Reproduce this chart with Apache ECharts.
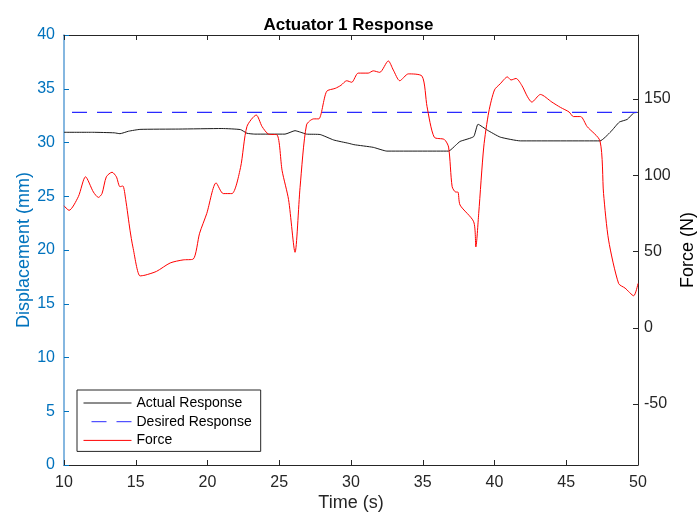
<!DOCTYPE html>
<html lang="en">
<head>
    <meta charset="UTF-8">
    <title>Actuator 1 Response</title>
    <script src="https://cdn.jsdelivr.net/npm/echarts@6.0.0/dist/echarts.min.js"></script>
    <style>
        html, body { margin: 0; padding: 0; background: #fff; }
    </style>
</head>
<body>
<div id="chart" style="width: 697px; height:514px;"></div>
<script>
    // time (s) and actual displacement (mm)
    var actualTime = [10.0, 12.0, 13.5, 13.9, 14.5, 15.3, 18.0, 21.0, 22.3, 22.75, 23.3, 25.4, 26.1, 26.5, 26.9,
        27.85, 28.8, 29.85, 30.2, 31.55, 32.5, 36.8, 37.3, 37.6, 38.55, 38.85, 39.5, 40.4, 41.8, 47.35,
        48.1, 48.7, 49.25, 49.7, 50.0];
    var actualDisp = [30.95, 30.95, 30.9, 30.82, 31.05, 31.22, 31.25, 31.3, 31.2, 30.86, 30.78, 30.78, 31.1, 30.95, 30.78,
        30.74, 30.23, 29.92, 29.8, 29.55, 29.2, 29.2, 29.75, 30.1, 30.55, 31.7, 31.15, 30.5, 30.15, 30.15,
        31.0, 31.9, 32.15, 32.75, 32.8];

    // desired displacement (mm)
    var desiredTime = [10, 50];
    var desiredDisp = [32.8, 32.8];

    // time (s) and force (N)
    var forceTime = [10.0, 10.35, 11.0, 11.5, 12.05, 12.4, 12.65, 12.95, 13.35, 13.65, 13.9, 14.1, 14.3, 14.6, 14.8,
        15.3, 15.65, 16.45, 17.4, 18.3, 19.0, 19.45, 19.95, 20.6, 21.1, 21.7, 22.3, 22.75, 23.4, 23.8,
        24.25, 24.85, 25.2, 25.65, 26.1, 26.45, 26.9, 27.4, 27.75, 28.3, 28.9, 29.3, 29.7, 30.05, 30.5,
        31.2, 31.55, 32.0, 32.6, 32.95, 33.4, 34.0, 34.95, 35.3, 35.8, 36.5, 36.8, 37.05, 37.3, 37.45,
        37.6, 38.55, 38.7, 38.9, 39.25, 39.6, 40.0, 40.4, 40.9, 41.15, 41.5, 41.9, 42.3, 42.6, 43.2,
        44.0, 44.6, 45.2, 45.5, 46.0, 46.45, 47.35, 47.6, 47.95, 48.65, 49.1, 49.7, 50.0];
    var forceVal = [80, 77, 86, 99, 89, 85.5, 88, 99, 102, 99, 92.5, 93, 84, 64, 53,
        34, 34.5, 37, 42.5, 44.5, 45, 62, 75, 95, 88, 88, 105, 132, 139.5, 132,
        127, 126.5, 103, 84, 49.5, 92, 133, 137, 137, 155, 157, 159, 162, 161, 167,
        167, 168.5, 167.5, 175, 169, 162, 166.5, 165, 145, 125, 123.5, 118.5, 92.5, 89, 89,
        80.5, 69.5, 53, 75, 118.5, 141.5, 156, 160, 164.5, 162.5, 163.5, 159, 151.5, 148, 153,
        148, 144.5, 141.5, 138.5, 138.5, 132, 122.5, 88, 57.5, 29, 26, 21, 29];

    var forceTicks = [-50, 0, 50, 100, 150];

    function zip(a, b) {
        var out = [];
        for (var i = 0; i < a.length; i++) out.push([a[i], b[i]]);
        return out;
    }

    var font = 'Liberation Sans, Arial, Helvetica, sans-serif';
    var dark = '#262626';
    var mBlue = '#0072BD';

    var chart = echarts.init(document.getElementById('chart'));
    var option = {
        animation: false,
        backgroundColor: '#fff',
        title: {
            text: 'Actuator 1 Response',
            left: 'center',
            top: 12,
            textStyle: { fontFamily: font, fontSize: 17, fontWeight: 'bold', color: '#000' }
        },
        legend: {
            orient: 'vertical',
            left: 77,
            top: 390,
            data: ['Actual Response', 'Desired Response', 'Force'],
            itemWidth: 48,
            itemHeight: 14,
            itemGap: 4.7,
            padding: [6, 9, 4, 6],
            borderColor: dark,
            borderWidth: 1,
            backgroundColor: '#fff',
            itemStyle: { opacity: 0 },
            lineStyle: { width: 1 },
            textStyle: { fontFamily: font, fontSize: 14, color: '#000' }
        },
        grid: { left: 64, right: 59, top: 35, bottom: 49, outerBoundsMode: 'none' },
        xAxis: [
            {
                type: 'value',
                min: 10,
                max: 50,
                interval: 5,
                name: 'Time (s)',
                nameLocation: 'middle',
                nameMoveOverlap: false,
                nameGap: 29,
                nameTextStyle: { fontFamily: font, fontSize: 18, color: dark },
                axisLine: { lineStyle: { color: dark } },
                axisTick: { inside: true, length: 5, lineStyle: { color: dark } },
                axisLabel: { fontFamily: font, fontSize: 16, color: dark, margin: 10 },
                splitLine: { show: false }
            },
            {
                type: 'value',
                position: 'top',
                min: 10,
                max: 50,
                interval: 5,
                axisLine: { show: true, onZero: false, lineStyle: { color: dark } },
                axisTick: { inside: true, length: 5, lineStyle: { color: dark } },
                axisLabel: { show: false },
                splitLine: { show: false }
            }
        ],
        yAxis: [
            {
                type: 'value',
                min: 0,
                max: 40,
                interval: 5,
                name: 'Displacement (mm)',
                nameLocation: 'middle',
                nameMoveOverlap: false,
                nameGap: 31,
                nameTextStyle: { fontFamily: font, fontSize: 18, color: mBlue },
                axisLine: { show: true, lineStyle: { color: '#5d9fd6', width: 1.5 } },
                axisTick: { inside: true, length: 5, lineStyle: { color: mBlue } },
                axisLabel: { fontFamily: font, fontSize: 16, color: mBlue, margin: 9 },
                splitLine: { show: false }
            },
            {
                type: 'value',
                position: 'right',
                min: -90,
                max: 192,
                name: 'Force (N)',
                nameLocation: 'middle',
                nameMoveOverlap: false,
                nameRotate: 90,
                nameGap: 41,
                nameTextStyle: { fontFamily: font, fontSize: 18, color: '#000' },
                axisLine: { show: true, lineStyle: { color: dark } },
                axisTick: { inside: true, length: 5, customValues: forceTicks, lineStyle: { color: dark } },
                axisLabel: { fontFamily: font, fontSize: 16, color: dark, margin: 6, customValues: forceTicks },
                splitLine: { show: false }
            }
        ],
        series: [
            {
                name: 'Actual Response',
                type: 'line',
                yAxisIndex: 0,
                symbol: 'none',
                smooth: 0.15,
                lineStyle: { color: '#1a1a1a', width: 1 },
                itemStyle: { color: '#1a1a1a' },
                data: zip(actualTime, actualDisp)
            },
            {
                name: 'Desired Response',
                type: 'line',
                yAxisIndex: 0,
                symbol: 'none',
                lineStyle: { color: '#2a2aff', width: 1.2, type: [15, 10], dashOffset: 17 },
                itemStyle: { color: '#2a2aff' },
                data: zip(desiredTime, desiredDisp)
            },
            {
                name: 'Force',
                type: 'line',
                yAxisIndex: 1,
                symbol: 'none',
                smooth: 0.25,
                lineStyle: { color: '#ff0000', width: 1 },
                itemStyle: { color: '#ff0000' },
                data: zip(forceTime, forceVal)
            }
        ]
    };
    chart.setOption(option);
</script>
</body>
</html>
